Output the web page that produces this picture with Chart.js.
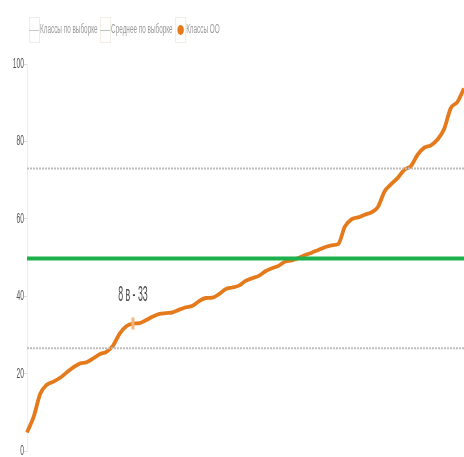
<!DOCTYPE html>
<html>
<head>
<meta charset="utf-8">
<script src="https://cdn.jsdelivr.net/npm/chart.js@4"></script>
<style>
html,body{margin:0;padding:0;background:#fff;}
#wrap{width:464px;height:457px;position:relative;}
</style>
</head>
<body>
<div id="wrap"><canvas id="c"></canvas></div>
<script>
// ---- data ----
const seriesNames = ["Классы по выборке", "Среднее по выборке", "Классы ОО"];
const classValues = [
  4.9, 8.9, 14.9, 17.2, 18.0, 19.0, 20.4, 21.7, 22.7, 23.0,
  24.0, 25.1, 25.7, 27.3, 30.4, 32.3, 33.0, 33.1, 33.9, 34.8,
  35.5, 35.7, 35.9, 36.6, 37.2, 37.6, 38.8, 39.6, 39.7, 40.6,
  41.9, 42.3, 42.8, 44.0, 44.7, 45.3, 46.5, 47.3, 47.9, 49.0,
  49.3, 49.9, 50.7, 51.3, 52.0, 52.7, 53.2, 53.5, 58.0, 59.9,
  60.4, 61.1, 61.7, 63.1, 67.1, 69.0, 70.6, 72.7, 73.7, 76.6,
  78.4, 79.0, 80.5, 83.2, 88.6, 90.2, 93.7
];
const sampleUpper = 73.0;
const sampleLower = 26.6;
const sampleMean = 49.8;
const highlightIndex = 16;
const highlightLabel = "8 в - 33";
const yTicks = [0, 20, 40, 60, 80, 100];

const categories = classValues.map((v, i) => String(i + 1));
const FONT = "'Liberation Sans', Arial, sans-serif";

const ORANGE = '#e57a1c';

function squishText(ctx, text, x, y, size, sx, color, align) {
  ctx.save();
  ctx.font = size + "px " + FONT;
  ctx.fillStyle = color;
  ctx.textBaseline = "middle";
  ctx.textAlign = align || "left";
  ctx.translate(x, y);
  ctx.scale(sx, 1);
  ctx.fillText(text, 0, 0);
  ctx.restore();
}
function squishWidth(ctx, text, size, sx) {
  ctx.save();
  ctx.font = size + "px " + FONT;
  const w = ctx.measureText(text).width * sx;
  ctx.restore();
  return w;
}

const customDraw = {
  id: 'customDraw',
  afterDraw(chart) {
    const ctx = chart.ctx;
    // y tick labels
    const ys = chart.scales.y;
    yTicks.forEach(v => {
      squishText(ctx, String(v), ys.right - 3, ys.getPixelForValue(v), 14, 0.48, '#555', 'right');
    });
    // legend
    const legendItems = [
      { text: seriesNames[0], kind: 'line', color: '#c8c8c8' },
      { text: seriesNames[1], kind: 'line', color: '#b9c4b9' },
      { text: seriesNames[2], kind: 'circle', color: ORANGE }
    ];
    let x = 29;
    const ly = 30;
    const fs = 12.5, fsx = 0.51;
    legendItems.forEach(it => {
      ctx.save();
      ctx.strokeStyle = '#f1ede6';
      ctx.lineWidth = 1;
      ctx.strokeRect(x + 0.5, ly - 12.5, 10, 25);
      ctx.restore();
      if (it.kind === 'line') {
        ctx.save();
        ctx.strokeStyle = it.color;
        ctx.lineWidth = 1;
        ctx.beginPath();
        ctx.moveTo(x, ly + 0.5);
        ctx.lineTo(x + 10, ly + 0.5);
        ctx.stroke();
        ctx.restore();
      } else {
        ctx.save();
        ctx.fillStyle = it.color;
        ctx.translate(x + 5.5, ly);
        ctx.scale(0.65, 1);
        ctx.beginPath();
        ctx.arc(0, 0, 5, 0, Math.PI * 2);
        ctx.fill();
        ctx.restore();
      }
      x += 11;
      squishText(ctx, it.text, x, ly, fs, fsx, '#9a9a9a', 'left');
      x += squishWidth(ctx, it.text, fs, fsx) + 2.5;
    });
  },
  afterDatasetsDraw(chart) {
    const meta = chart.getDatasetMeta(3);
    const pt = meta.data[highlightIndex];
    if (!pt) return;
    squishText(chart.ctx, highlightLabel, pt.x, pt.y - 29, 22, 0.4, '#4a4a4a', 'center');
  }
};

new Chart(document.getElementById('c'), {
  type: 'line',
  data: {
    labels: categories,
    datasets: [
      {
        label: seriesNames[0],
        data: categories.map(() => sampleUpper),
        borderColor: '#bdbdbd', borderWidth: 2, borderDash: [2, 1],
        pointRadius: 0, fill: false
      },
      {
        label: '_lower',
        data: categories.map(() => sampleLower),
        borderColor: '#bdbdbd', borderWidth: 2, borderDash: [2, 1],
        pointRadius: 0, fill: false
      },
      {
        label: seriesNames[1],
        data: categories.map(() => sampleMean),
        borderColor: '#1db04b', borderWidth: 4,
        pointRadius: 0, fill: false
      },
      {
        label: seriesNames[2],
        data: classValues,
        borderColor: ORANGE, backgroundColor: ORANGE, borderWidth: 3.8,
        cubicInterpolationMode: 'monotone',
        pointRadius: classValues.map((v, i) => i === highlightIndex ? 6 : 0),
        pointStyle: 'line', pointRotation: 90,
        pointBorderColor: '#f3b57c', pointBorderWidth: 3,
        fill: false
      }
    ]
  },
  options: {
    responsive: true,
    maintainAspectRatio: false,
    animation: false,
    layout: { padding: { left: 0, right: 0, top: 64, bottom: 0 } },
    plugins: {
      tooltip: { enabled: false },
      legend: { display: false }
    },
    scales: {
      x: { display: false },
      y: {
        min: 0, max: 100,
        afterFit(scale) { scale.width = 27; },
        afterBuildTicks(scale) { scale.ticks = yTicks.map(v => ({ value: v })); },
        border: { display: true, color: '#eeeeee' },
        grid: { drawOnChartArea: false, tickLength: 3, color: '#dddddd' },
        ticks: { color: 'rgba(0,0,0,0)', padding: 2, font: { family: FONT, size: 6 } }
      }
    }
  },
  plugins: [customDraw]
});
</script>
</body>
</html>
